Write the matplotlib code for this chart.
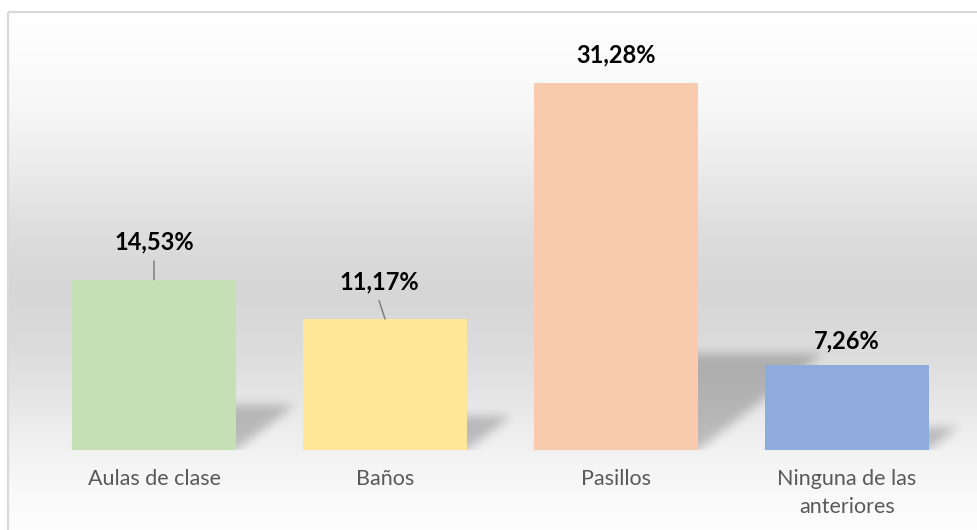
import numpy as np
import matplotlib
matplotlib.use("Agg")
import matplotlib.pyplot as plt
from matplotlib.patches import Rectangle

categories = ["Aulas de clase", "Baños", "Pasillos", "Ninguna de las\nanteriores"]
values = [14.53, 11.17, 31.28, 7.26]
value_labels = ["14,53%", "11,17%", "31,28%", "7,26%"]
colors = ["#c5e0b4", "#ffe699", "#f8cbad", "#8faadc"]

W, H = 977, 530
fig = plt.figure(figsize=(W / 100, H / 100), dpi=100)
fig.patch.set_facecolor("white")

# background gradient inside the frame
bg = fig.add_axes([0, 0, 1, 1], zorder=0)
bg.axis("off")
stops_y = [12, 100, 170, 230, 290, 350, 400, 440, 500, 530]
stops_c = [255, 248, 235, 222, 214, 220, 230, 240, 250, 253]
yy = np.arange(12, 531)
col = np.interp(yy, stops_y, stops_c) / 255.0
grad = np.repeat(col[:, None], 2, axis=1)
bg.imshow(np.dstack([grad, grad, grad]), extent=(8, W + 5, 530, 12), aspect="auto",
          interpolation="bilinear")
bg.add_patch(Rectangle((8, 12), W + 20, H, fill=False, edgecolor="#d9d9d9", lw=1.6))
bg.set_xlim(0, W)
bg.set_ylim(H, 0)

ax_left = 38.5 / W
ax_right = 962.5 / W
ax_bottom = 1 - 450 / H
ax_top = 1 - 39.4 / H
ax = fig.add_axes([ax_left, ax_bottom, ax_right - ax_left, ax_top - ax_bottom], zorder=1)
ax.patch.set_alpha(0)
x = np.arange(len(categories))
bw = 0.71

# soft perspective shadows
nx, ny = 924, 410
gx = np.linspace(-0.5, 3.5, nx)
gy = np.linspace(0, 35, ny)
X, Y = np.meshgrid(gx, gy)
mask = np.zeros_like(X)
for i, v in enumerate(values):
    sh = 0.26 * v
    dx = 0.0172 * v
    t = Y / sh
    inside = (Y <= sh) & (X >= i - bw / 2 + dx * t) & (X <= i + bw / 2 + dx * t)
    mask = np.maximum(mask, inside.astype(float))

def blur(a, s):
    r = int(3 * s)
    k = np.exp(-np.arange(-r, r + 1) ** 2 / (2 * s * s))
    k /= k.sum()
    p = np.pad(a, ((r, r), (r, r)), mode="constant")
    out = np.zeros_like(p)
    for j, w in enumerate(k):
        out += w * np.roll(p, j - r, axis=1)
    p2 = out
    out = np.zeros_like(p2)
    for j, w in enumerate(k):
        out += w * np.roll(p2, j - r, axis=0)
    return out[r:-r, r:-r]

mask = blur(mask, 5)
rgba = np.zeros((ny, nx, 4))
rgba[..., 3] = 0.22 * mask
ax.imshow(rgba, extent=(-0.5, 3.5, 0, 35), origin="lower", aspect="auto", zorder=1,
          interpolation="bilinear")

ax.bar(x, values, width=bw, color=colors, zorder=2)
ax.set_xlim(-0.5, 3.5)
ax.set_ylim(0, 35)
for s in ax.spines.values():
    s.set_visible(False)
ax.set_yticks([])
ax.set_xticks(x)
ax.set_xticklabels(categories, fontsize=15.5, color="#595959", family="Lato", linespacing=1.45)
ax.tick_params(axis="x", length=0, pad=14)

# value labels: (dx px, dy px) label centre offsets; leader line where moved
offsets = [(0, 38), (-6, 37), (0, 28), (0, 24)]
leaders = [True, True, False, False]
for i, v in enumerate(values):
    ox, oy = offsets[i]
    ax.annotate(value_labels[i], xy=(i, v), xytext=(ox * 0.72, oy * 0.72),
                textcoords="offset points", ha="center", va="center",
                fontsize=17, fontweight="bold", family="Lato", color="black", zorder=4)
    if leaders[i]:
        ax.annotate("", xy=(i, v), xytext=(ox * 0.72, 18.5 * 0.72), textcoords="offset points",
                    arrowprops=dict(arrowstyle="-", color="#7f7f7f", lw=1.1,
                                    shrinkA=0, shrinkB=0), zorder=3)

fig.savefig("out.png", dpi=100)
